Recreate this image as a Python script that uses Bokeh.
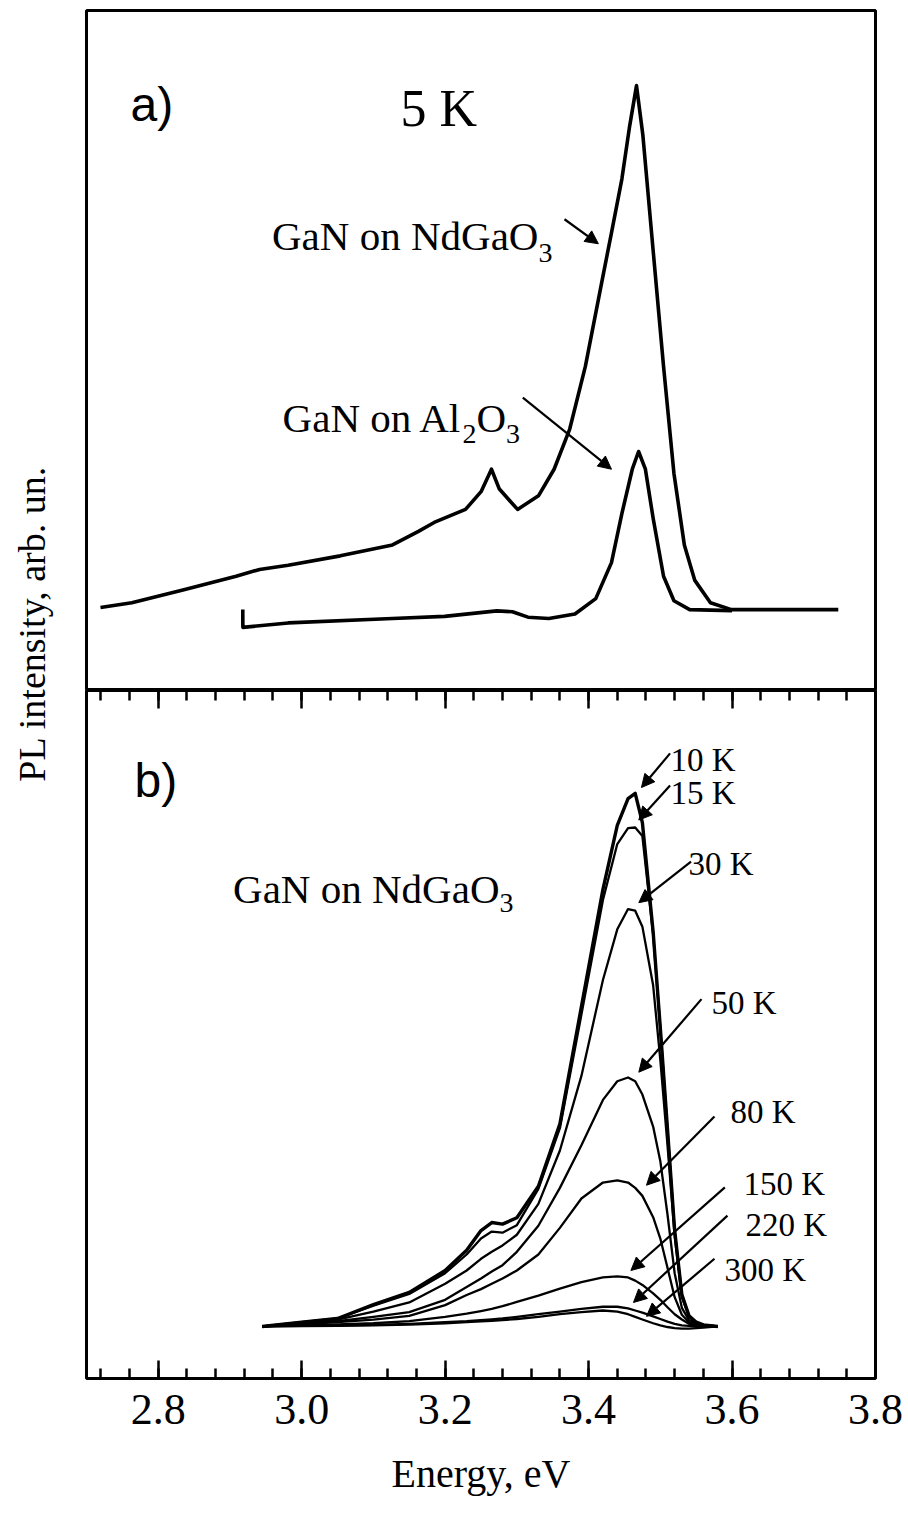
import numpy as np
from bokeh.plotting import figure
from bokeh.models import (Range1d, LinearAxis, Arrow, NormalHead, Label,
                          FixedTicker, PrintfTickFormatter, CustomJSTickFormatter)
from bokeh.layouts import row, column
from bokeh.embed import file_html
from bokeh.resources import INLINE
from bokeh.core.validation import silence
from bokeh.core.validation.warnings import MISSING_RENDERERS

silence(MISSING_RENDERERS, True)

# ---------------- data ----------------
# panel a) 5 K spectra
energy_ndgao3 = [2.7195, 2.7632, 2.8358, 2.9086, 2.9412, 2.9812, 3.0538, 3.1266, 3.1628,
                 3.1847, 3.2284, 3.2501, 3.2646, 3.2756, 3.3010, 3.3301, 3.3519, 3.3737,
                 3.3955, 3.4173, 3.4319, 3.4464, 3.4573, 3.4668, 3.4756, 3.4900, 3.5045,
                 3.5190, 3.5335, 3.5481, 3.5699, 3.5991, 3.6717, 3.7481]
intensity_ndgao3 = [0.0, 0.9, 3.4, 6.0, 7.3, 8.1, 9.9, 12.0, 14.6, 16.3, 18.8, 22.2, 26.5,
                    22.7, 18.8, 21.4, 26.5, 34.2, 46.2, 61.6, 71.8, 82.1, 92.3, 100.0, 90.6,
                    68.4, 46.2, 25.7, 12.0, 5.2, 0.9, -0.4, -0.4, -0.4]

energy_al2o3 = [2.9179, 2.9180, 2.9812, 3.1266, 3.1992, 3.2720, 3.2938, 3.3155, 3.3446,
                3.3810, 3.4100, 3.4319, 3.4464, 3.4609, 3.4697, 3.4792, 3.4900, 3.5045,
                3.5190, 3.5409, 3.6000]
intensity_al2o3 = [-0.4, -3.8, -2.95, -2.1, -1.7, -0.65, -0.8, -1.85, -2.1, -1.25, 1.7,
                   8.6, 18.0, 26.5, 29.9, 26.5, 17.1, 6.0, 1.3, -0.4, -0.6]

# panel b) temperature series, GaN on NdGaO3
energy_b = [2.945, 3.00, 3.05, 3.10, 3.15, 3.20, 3.23, 3.25, 3.265, 3.28, 3.30, 3.33, 3.36,
            3.39, 3.42, 3.44, 3.455, 3.465, 3.475, 3.49, 3.50, 3.51, 3.52, 3.53, 3.54, 3.55,
            3.56, 3.58]
pl_10K = [0, 0.8, 1.5, 4.1, 6.4, 10.5, 14.3, 18.0, 19.5, 19.2, 20.4, 26.3, 38.0, 60.0,
          82.0, 94.0, 99.0, 100.0, 94.5, 74.0, 56.0, 37.0, 18.0, 6.0, 2.0, 0.8, 0.3, 0.0]
pl_15K = [0, 0.8, 1.5, 3.9, 6.1, 10.0, 13.5, 16.5, 17.8, 17.6, 19.0, 25.8, 37.2, 58.5,
          80.0, 90.5, 93.5, 93.6, 92.0, 73.5, 56.0, 37.0, 18.0, 6.0, 2.0, 0.8, 0.3, 0.0]
pl_30K = [0, 0.6, 1.3, 2.8, 4.5, 8.0, 10.5, 12.7, 14.0, 15.2, 17.2, 23.0, 33.0, 47.0,
          65.0, 74.5, 78.3, 78.0, 75.0, 64.0, 50.0, 34.0, 17.0, 5.5, 1.8, 0.7, 0.3, 0.0]
pl_50K = [0, 0.5, 1.0, 1.8, 2.7, 5.0, 7.4, 9.0, 10.3, 11.5, 14.0, 18.9, 26.0, 34.0,
          42.5, 46.0, 46.7, 46.0, 43.5, 37.5, 31.0, 21.0, 10.0, 3.5, 1.2, 0.5, 0.2, 0.0]
pl_80K = [0, 0.4, 0.8, 1.3, 2.0, 4.0, 5.9, 7.0, 8.0, 9.0, 10.5, 13.5, 18.5, 24.0,
          27.0, 27.4, 27.0, 26.0, 24.5, 20.5, 16.5, 11.0, 5.5, 2.2, 0.8, 0.3, 0.1, 0.0]
pl_150K = [0, 0.2, 0.4, 0.6, 1.0, 1.8, 2.4, 2.9, 3.3, 3.8, 4.6, 5.8, 7.1, 8.3,
           9.2, 9.4, 9.2, 8.6, 7.8, 6.2, 5.0, 3.6, 2.3, 1.3, 0.5, 0.2, 0.1, 0.0]
pl_220K = [0, 0.1, 0.2, 0.3, 0.5, 0.8, 1.0, 1.2, 1.35, 1.5, 1.8, 2.3, 2.8, 3.3,
           3.7, 3.7, 3.4, 3.0, 2.6, 1.9, 1.4, 0.9, 0.5, 0.2, 0.1, 0.0, 0.0, 0.0]
pl_300K = [0, 0.05, 0.1, 0.2, 0.35, 0.6, 0.8, 0.95, 1.05, 1.2, 1.4, 1.8, 2.3, 2.7,
           3.0, 2.8, 2.3, 1.8, 1.3, 0.6, 0.2, -0.1, -0.3, -0.4, -0.4, -0.3, -0.2, 0.0]

temperature_labels = ["10 K", "15 K", "30 K", "50 K", "80 K", "150 K", "220 K", "300 K"]
series_b = [pl_10K, pl_15K, pl_30K, pl_50K, pl_80K, pl_150K, pl_220K, pl_300K]

x_major_ticks = [2.8, 3.0, 3.2, 3.4, 3.6, 3.8]
x_minor_ticks = [round(2.72 + 0.04 * i, 2) for i in range(27)]

# ---------------- layout / style ----------------
SERIF = "Liberation Serif"
SANS = "Liberation Sans"
X0, X1 = 2.70, 3.80
FIG_W = 828
FRAME_W = 789
PX_PER_EV = FRAME_W / (X1 - X0)


def hide_grids(p):
    for g in p.xgrid:
        g.visible = False
    for g in p.ygrid:
        g.visible = False


def make_fig(height, y0, y1, b_top, b_bottom, with_x_axis):
    p = figure(width=FIG_W, height=height, x_range=Range1d(X0, X1), y_range=Range1d(y0, y1),
               toolbar_location=None, output_backend="svg",
               x_axis_location="below" if with_x_axis else None, y_axis_location=None,
               min_border_left=6, min_border_right=FIG_W - 6 - FRAME_W,
               min_border_top=b_top, min_border_bottom=b_bottom)
    p.outline_line_color = "black"
    p.outline_line_width = 3
    p.background_fill_color = "white"
    p.border_fill_color = "white"
    hide_grids(p)
    return p


def add_label(p, text, x, y, size, font=SERIF, align="left"):
    p.add_layout(Label(x=x, y=y, text=text, text_font=font, text_font_size=size,
                       text_align=align, text_baseline="alphabetic", text_color="black"))


def add_arrow(p, xs, ys, xe, ye):
    p.add_layout(Arrow(end=NormalHead(size=13, fill_color="black", line_color="black",
                                      line_width=1),
                       x_start=xs, y_start=ys, x_end=xe, y_end=ye,
                       line_color="black", line_width=2.2))


def style_ticks(ax):
    ax.ticker = FixedTicker(ticks=x_major_ticks, minor_ticks=x_minor_ticks)
    ax.axis_line_color = None
    ax.major_tick_in = 18
    ax.major_tick_out = 0
    ax.minor_tick_in = 10
    ax.minor_tick_out = 0
    ax.major_tick_line_width = 2.5
    ax.minor_tick_line_width = 2.5
    ax.major_tick_line_color = "black"
    ax.minor_tick_line_color = "black"


# ---------- panel a ----------
pa = make_fig(690, -15.9, 114.4, 10, 0, False)
pa.line(energy_ndgao3, intensity_ndgao3, line_color="black", line_width=3.6, line_join="round")
pa.line(energy_al2o3, intensity_al2o3, line_color="black", line_width=3.6, line_join="round")

add_label(pa, "a)", 2.7613, 96.4, "48px", font=SANS)
add_label(pa, "5 K", 3.1378, 95.6, "52px")

sub_px, main_px = 28, 41
add_label(pa, "GaN on NdGaO", 3.3301, 71.1, f"{main_px}px", align="right")
add_label(pa, "3", 3.3301, 68.0, f"{sub_px}px")
add_arrow(pa, 3.3664, 74.4, 3.4137, 69.7)

al_x = 3.2242
add_label(pa, "GaN on Al", al_x, 36.4, f"{main_px}px", align="right")
add_label(pa, "2", al_x, 33.3, f"{sub_px}px")
o_x = al_x + 0.5 * sub_px / PX_PER_EV
add_label(pa, "O", o_x, 36.4, f"{main_px}px")
add_label(pa, "3", o_x + 0.722 * main_px / PX_PER_EV, 33.3, f"{sub_px}px")
add_arrow(pa, 3.3083, 40.2, 3.4319, 26.5)

# ---------- panel b ----------
pb = make_fig(840, -9.76, 119.3, 0, 152, True)
for i, vals in enumerate(series_b):
    pb.line(energy_b, vals, line_color="black", line_width=3.4 if i == 0 else 2.3,
            line_join="round")

ax = pb.xaxis[0]
style_ticks(ax)
ax.formatter = PrintfTickFormatter(format="%.1f")
ax.major_label_text_font = SERIF
ax.major_label_text_font_size = "44px"
ax.major_label_text_color = "black"
ax.major_label_standoff = 16
ax.axis_label = "Energy, eV"
ax.axis_label_text_font = SERIF
ax.axis_label_text_font_size = "40px"
ax.axis_label_text_font_style = "normal"
ax.axis_label_text_color = "black"
ax.axis_label_standoff = 24

top_ax = LinearAxis(formatter=CustomJSTickFormatter(code="return ''"))
style_ticks(top_ax)
top_ax.major_label_standoff = 0
top_ax.major_label_text_font_size = "0px"
pb.add_layout(top_ax, "above")

add_label(pb, "b)", 2.767, 102.4, "48px", font=SANS)
add_label(pb, "GaN on NdGaO", 3.2758, 82.1, f"{main_px}px", align="right")
add_label(pb, "3", 3.2758, 79.4, f"{sub_px}px")

label_pos = [(3.5142, 106.2), (3.5142, 100.0), (3.5393, 86.7), (3.5713, 60.6),
             (3.5978, 40.3), (3.6159, 26.8), (3.6187, 19.1), (3.5894, 10.5)]
arrow_pos = [(3.5136, 107.5, 3.4737, 101.1), (3.5136, 101.5, 3.470, 95.0),
             (3.5428, 87.2, 3.470, 79.5), (3.5574, 61.4, 3.470, 47.7),
             (3.5755, 39.4, 3.4807, 26.5), (3.590, 26.1, 3.459, 10.5),
             (3.5936, 20.8, 3.4626, 4.5), (3.5755, 12.7, 3.4807, 1.9)]
for t, (lx, ly), (xs, ys, xe, ye) in zip(temperature_labels, label_pos, arrow_pos):
    add_label(pb, t, lx, ly, "33px")
    add_arrow(pb, xs, ys, xe, ye)

# ---------- shared y label ----------
pl = figure(width=80, height=1530, toolbar_location=None, output_backend="svg",
            x_axis_location=None, y_axis_location=None, min_border=0,
            x_range=Range1d(0, 1), y_range=Range1d(0, 1))
pl.outline_line_color = None
pl.border_fill_color = "white"
pl.background_fill_color = "white"
hide_grids(pl)
pl.add_layout(Label(x=31, y=1530 - 623, x_units="screen", y_units="screen",
                    text="PL intensity, arb. un.", angle=np.pi / 2,
                    text_align="center", text_baseline="middle",
                    text_font=SERIF, text_font_size="38px", text_color="black"))

layout = row(pl, column(pa, pb))
open("out.html", "w").write(file_html(layout, INLINE))
